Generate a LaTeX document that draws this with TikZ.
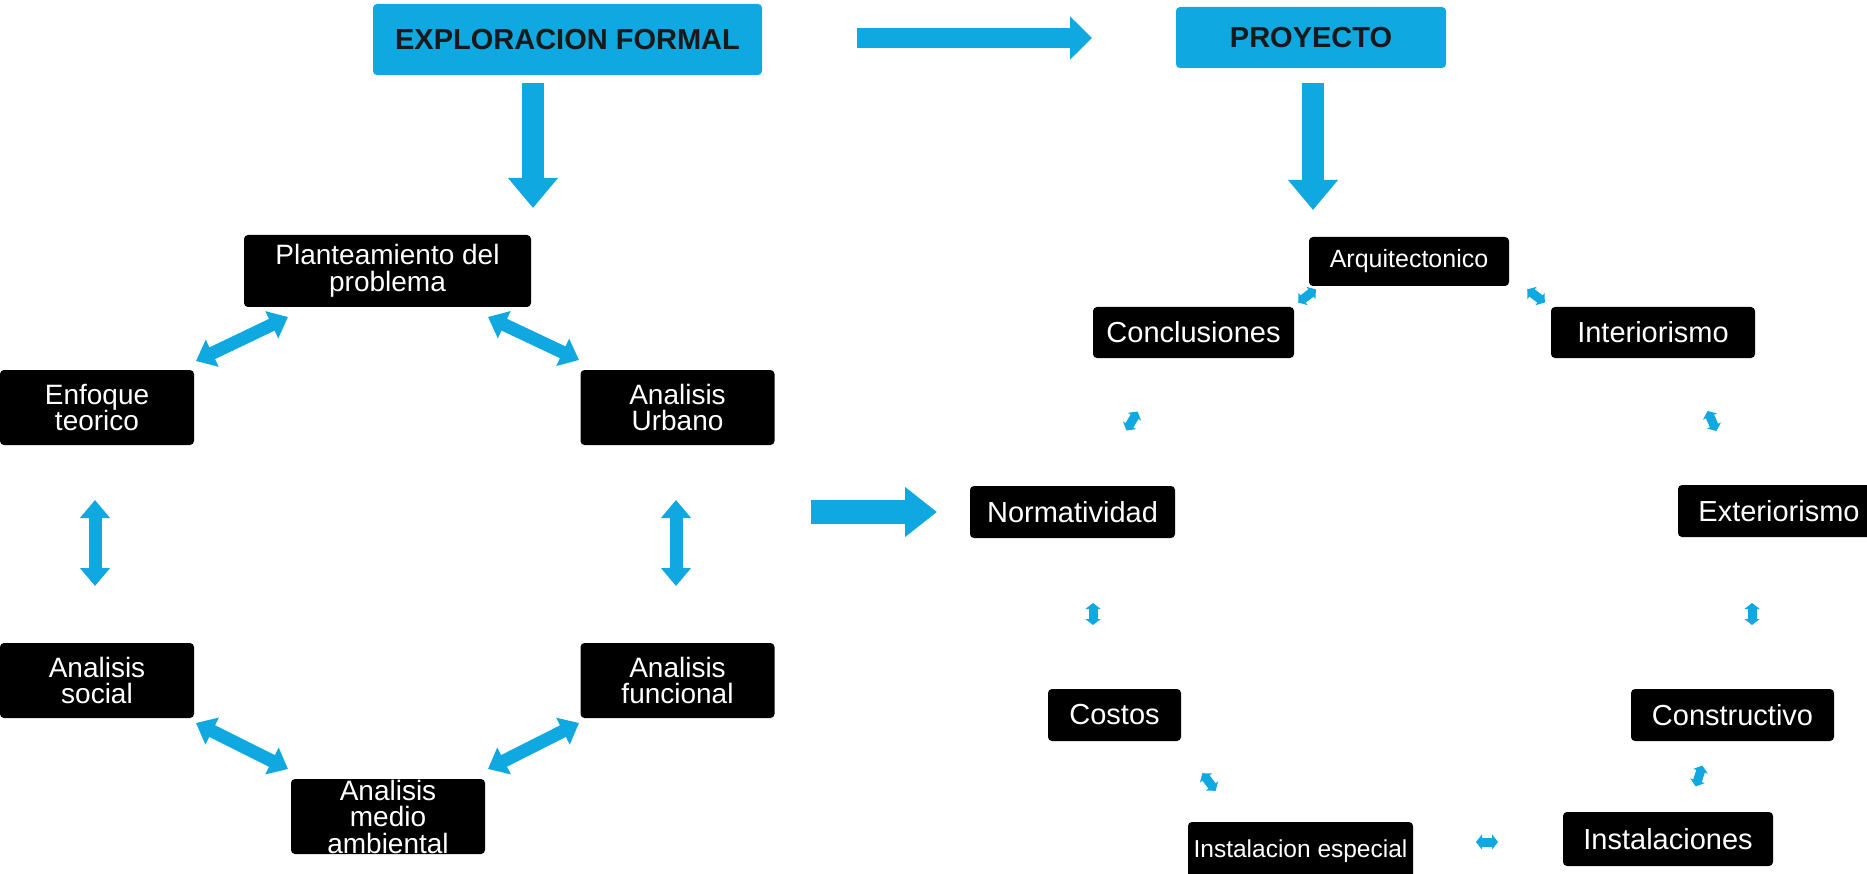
\documentclass[tikz,border=0pt]{standalone}
\usepackage{fontspec}
\setmainfont{Liberation Sans}
\usetikzlibrary{arrows.meta,calc}
\definecolor{cy}{RGB}{15,168,224}
\begin{document}
\begin{tikzpicture}[x=1pt,y=-1pt,
  blk/.style={fill=black,rounded corners=4pt,text=white,inner sep=0pt,align=center},
  lbox/.style={blk,minimum width=194pt,minimum height=75pt,font=\fontsize{28}{26.5}\selectfont},
  rbox/.style={blk,minimum height=52pt,font=\fontsize{29}{32}\selectfont},
  headbox/.style={fill=cy,rounded corners=4pt,text=black!90,inner sep=0pt,font=\fontsize{29}{32}\selectfont\bfseries},
  bigarrow/.style={draw=cy,line width=22pt,-{Triangle[width=48pt,length=30pt]}},
  toparrow/.style={draw=cy,line width=20pt,-{Triangle[width=42pt,length=22pt]}},
  midarrow/.style={draw=cy,line width=24pt,-{Triangle[width=48pt,length=32pt]}},
  dblarrow/.style={draw=cy,line width=13pt,{Triangle[width=29pt,length=18pt]}-{Triangle[width=29pt,length=18pt]}},
  tinyarrow/.style={draw=cy,line width=9pt,{Triangle[width=15pt,length=6pt]}-{Triangle[width=15pt,length=6pt]}}
]
\fill[white] (0,0) rectangle (1867,874);
\useasboundingbox (0,0) rectangle (1867,874);

% header boxes
\node[headbox,minimum width=389pt,minimum height=71pt] (expl) at (567.5,39.5) {EXPLORACION FORMAL};
\node[headbox,minimum width=270pt,minimum height=61pt] (proy) at (1311,37.5) {PROYECTO};

% left cycle
\node[lbox,minimum width=287pt,minimum height=72pt] (plant) at (387.5,271) {Planteamiento del\\problema};
\node[lbox] (enf) at (97,407.5) {Enfoque\\teorico};
\node[lbox] (urb) at (677.5,407.5) {Analisis\\Urbano};
\node[lbox] (soc) at (97,680.5) {Analisis\\social};
\node[lbox] (fun) at (677.5,680.5) {Analisis\\funcional};
\node[lbox] (med) at (388,816.5) {Analisis\\medio\\ambiental};

% right cycle
\node[rbox,minimum width=200pt,minimum height=49pt,font=\fontsize{25}{28}\selectfont] (arq) at (1409,261.5) {Arquitectonico};
\node[rbox,minimum width=201pt,minimum height=51pt] (con) at (1193.5,332.5) {Conclusiones};
\node[rbox,minimum width=204pt,minimum height=51pt] (int) at (1653,332.5) {Interiorismo};
\node[rbox,minimum width=205pt] (nor) at (1072.5,512) {Normatividad};
\node[rbox,minimum width=202pt] (ext) at (1779,511) {Exteriorismo};
\node[rbox,minimum width=133pt] (cos) at (1114.5,715) {Costos};
\node[rbox,minimum width=203pt] (cns) at (1732.5,715) {Constructivo};
\node[rbox,minimum width=225pt,minimum height=58pt,font=\fontsize{24.5}{28}\selectfont] (ies) at (1300.5,851) {Instalacion especial};
\node[rbox,minimum width=210pt,minimum height=54pt] (ins) at (1668,839) {Instalaciones};

% arrow end coordinates
\coordinate (e1a) at (533,83);   \coordinate (e1b) at (533,208);
\coordinate (p1a) at (1313,83);  \coordinate (p1b) at (1313,210);
\coordinate (t1a) at (857,38);   \coordinate (t1b) at (1092,38);
\coordinate (m1a) at (811,512);  \coordinate (m1b) at (937,512);

\draw[bigarrow] (e1a) -- (e1b);
\draw[bigarrow] (p1a) -- (p1b);
\draw[toparrow] (t1a) -- (t1b);
\draw[midarrow] (m1a) -- (m1b);

% left double arrows
\coordinate (d1a) at (196,361); \coordinate (d1b) at (288,317);
\coordinate (d2a) at (488,317); \coordinate (d2b) at (579,360);
\coordinate (d3a) at (95,500);  \coordinate (d3b) at (95,586);
\coordinate (d4a) at (676,500); \coordinate (d4b) at (676,586);
\coordinate (d5a) at (196,723); \coordinate (d5b) at (288,769);
\coordinate (d6a) at (579,723); \coordinate (d6b) at (488,769);
\draw[dblarrow] (d1a) -- (d1b);
\draw[dblarrow] (d2a) -- (d2b);
\draw[dblarrow] (d3a) -- (d3b);
\draw[dblarrow] (d4a) -- (d4b);
\draw[dblarrow] (d5a) -- (d5b);
\draw[dblarrow] (d6a) -- (d6b);

% tiny double arrows on the right
\coordinate (s1a) at (1298.2,302.6); \coordinate (s1b) at (1315.8,289.4);
\coordinate (s2a) at (1527.2,289.4); \coordinate (s2b) at (1544.8,302.6);
\coordinate (s3a) at (1137.5,411.5); \coordinate (s3b) at (1126.5,430.5);
\coordinate (s4a) at (1707.6,411);   \coordinate (s4b) at (1716.4,431);
\coordinate (s5a) at (1093,603);     \coordinate (s5b) at (1093,625);
\coordinate (s6a) at (1752,603);     \coordinate (s6b) at (1752,625);
\coordinate (s7a) at (1202.4,773.2); \coordinate (s7b) at (1215.6,790.8);
\coordinate (s8a) at (1702.3,765.5); \coordinate (s8b) at (1695.7,786.5);
\coordinate (s9a) at (1476,842);     \coordinate (s9b) at (1498,842);
\foreach \i in {1,...,9} {\draw[tinyarrow] (s\i a) -- (s\i b);}
\end{tikzpicture}
\end{document}
